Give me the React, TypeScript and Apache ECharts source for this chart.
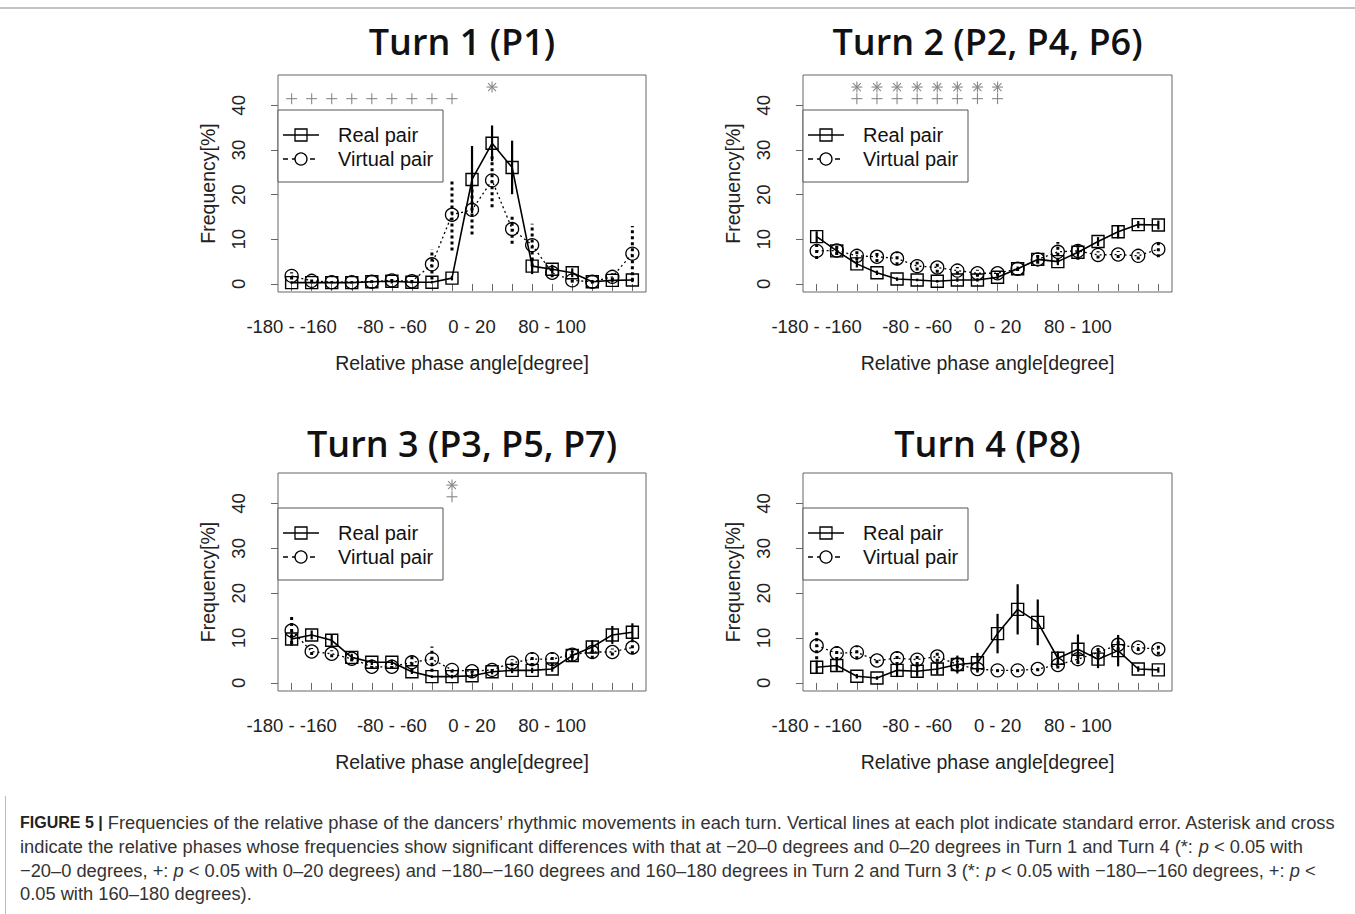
import React, { useEffect, useRef } from 'react';
import * as echarts from 'echarts';

// ---------- DATA ----------
const categories = [
  '-180 - -160', '-160 - -140', '-140 - -120', '-120 - -100', '-100 - -80', '-80 - -60',
  '-60 - -40', '-40 - -20', '-20 - 0', '0 - 20', '20 - 40', '40 - 60', '60 - 80',
  '80 - 100', '100 - 120', '120 - 140', '140 - 160', '160 - 180',
];
const labelPositions = [1, 6, 10, 14];
const yTicks = [0, 10, 20, 30, 40];

const titles = ['Turn 1 (P1)', 'Turn 2 (P2, P4, P6)', 'Turn 3 (P3, P5, P7)', 'Turn 4 (P8)'];

const p1Real = [0.3, 0.3, 0.3, 0.3, 0.5, 0.6, 0.4, 0.4, 1.3, 23.4, 31.5, 26.1, 4.0, 3.3, 2.5, 0.5, 0.8, 0.9];
const p1RealSE = [0.3, 0.2, 0.2, 0.2, 0.3, 0.5, 0.3, 0.3, 0.5, 7.5, 4.0, 6.0, 1.8, 1.0, 1.0, 0.4, 0.5, 0.5];
const p1Virtual = [1.8, 0.7, 0.4, 0.4, 0.5, 0.8, 0.6, 4.4, 15.5, 16.6, 23.2, 12.3, 8.7, 2.5, 0.8, 0.5, 1.6, 6.8];
const p1VirtualSE = [0.8, 0.3, 0.2, 0.2, 0.3, 0.4, 0.4, 3.4, 8.0, 5.5, 6.0, 3.3, 4.8, 1.0, 0.5, 0.4, 0.8, 6.2];

const p2Real = [10.6, 7.4, 4.5, 2.5, 1.1, 0.9, 0.6, 0.9, 0.9, 1.5, 3.4, 5.5, 5.0, 7.1, 9.5, 11.7, 13.3, 13.2];
const p2RealSE = [1.2, 0.8, 0.8, 0.5, 0.4, 0.3, 0.3, 0.4, 0.4, 0.4, 0.5, 0.8, 0.8, 1.0, 1.0, 1.5, 0.8, 1.0];
const p2Virtual = [7.4, 7.5, 6.3, 6.1, 5.7, 4.0, 3.7, 3.0, 2.4, 2.4, 3.4, 5.5, 7.2, 7.4, 6.5, 6.6, 6.3, 7.8];
const p2VirtualSE = [1.8, 1.0, 1.0, 1.2, 1.5, 1.0, 1.2, 0.8, 0.8, 0.6, 0.5, 1.0, 2.2, 2.0, 0.8, 0.8, 0.8, 1.8];

const p3Real = [9.8, 10.7, 9.5, 5.7, 4.6, 4.6, 2.5, 1.4, 1.4, 1.6, 2.5, 2.8, 2.8, 3.1, 6.1, 8.0, 10.7, 11.3];
const p3RealSE = [1.5, 1.0, 1.2, 0.8, 0.6, 0.6, 0.5, 0.3, 0.4, 0.5, 0.6, 0.6, 0.6, 0.6, 1.2, 1.5, 2.0, 2.0];
const p3Virtual = [11.7, 7.0, 6.5, 5.4, 3.6, 3.6, 4.6, 5.3, 2.9, 2.6, 2.9, 4.5, 5.3, 5.3, 6.3, 6.9, 6.9, 7.9];
const p3VirtualSE = [3.0, 0.8, 0.8, 0.6, 0.5, 0.5, 2.0, 2.8, 0.6, 0.5, 0.5, 0.8, 1.5, 1.5, 0.8, 1.5, 0.8, 1.5];

const p4Real = [3.5, 3.9, 1.5, 1.1, 2.8, 2.6, 3.1, 4.1, 4.5, 11.0, 16.4, 13.5, 5.5, 7.5, 5.3, 7.2, 3.1, 2.9];
const p4RealSE = [1.5, 1.2, 0.5, 0.4, 1.5, 1.2, 1.2, 2.0, 2.2, 4.4, 5.6, 5.1, 1.5, 3.3, 2.0, 3.5, 0.6, 0.6];
const p4Virtual = [8.3, 6.6, 6.8, 5.0, 5.5, 5.2, 5.9, 4.1, 3.1, 2.8, 2.8, 3.1, 4.0, 5.3, 6.8, 8.5, 7.9, 7.5];
const p4VirtualSE = [3.0, 1.5, 1.5, 0.6, 1.5, 1.2, 1.2, 0.8, 0.5, 0.4, 0.4, 0.5, 0.8, 1.0, 1.0, 1.2, 0.8, 1.2];

// significance markers: category index (1-based)
const crossLevel = 41.5;
const starLevel = 44.1;
const p1Cross = [1, 2, 3, 4, 5, 6, 7, 8, 9];
const p1Star = [11];
const p2Cross = [3, 4, 5, 6, 7, 8, 9, 10];
const p2Star = [3, 4, 5, 6, 7, 8, 9, 10];
const p3Cross = [9];
const p3Star = [9];
const p4Cross: number[] = [];
const p4Star: number[] = [];

const captionLines = [
  '{b|FIGURE 5 |} Frequencies of the relative phase of the dancers’ rhythmic movements in each turn. Vertical lines at each plot indicate standard error. Asterisk and cross',
  'indicate the relative phases whose frequencies show significant differences with that at −20–0 degrees and 0–20 degrees in Turn 1 and Turn 4 (*: {i|p} < 0.05 with',
  '−20–0 degrees, +: {i|p} < 0.05 with 0–20 degrees) and −180–−160 degrees and 160–180 degrees in Turn 2 and Turn 3 (*: {i|p} < 0.05 with −180–−160 degrees, +: {i|p} <',
  '0.05 with 160–180 degrees).',
];

// ---------- LAYOUT ----------
const grids = [
  { left: 278, top: 75, width: 368, height: 217 },
  { left: 803, top: 75, width: 369, height: 217 },
  { left: 278, top: 473, width: 368, height: 218 },
  { left: 803, top: 473, width: 369, height: 218 },
];
const titleY = [41, 41, 443, 443];

const FONT = 'Liberation Sans, Arial, Helvetica, sans-serif';
const CAP = 18.3;

const panels = [
  { real: p1Real, realSE: p1RealSE, virt: p1Virtual, virtSE: p1VirtualSE, cross: p1Cross, star: p1Star },
  { real: p2Real, realSE: p2RealSE, virt: p2Virtual, virtSE: p2VirtualSE, cross: p2Cross, star: p2Star },
  { real: p3Real, realSE: p3RealSE, virt: p3Virtual, virtSE: p3VirtualSE, cross: p3Cross, star: p3Star },
  { real: p4Real, realSE: p4RealSE, virt: p4Virtual, virtSE: p4VirtualSE, cross: p4Cross, star: p4Star },
];

function errSeries(gi: number, vals: number[], se: number[], dashed: boolean) {
  return {
    type: 'custom',
    xAxisIndex: gi,
    yAxisIndex: gi,
    clip: false,
    z: 4,
    encode: { x: 0, y: [1, 2] },
    data: vals.map((v, i) => [i + 1, v - se[i], v + se[i]]),
    renderItem: (_p: any, api: any) => {
      const x = api.value(0);
      const lo = api.coord([x, api.value(1)]);
      const hi = api.coord([x, api.value(2)]);
      return {
        type: 'line',
        shape: { x1: lo[0], y1: lo[1], x2: hi[0], y2: hi[1] },
        style: dashed
          ? { stroke: '#000', lineWidth: 3, lineDash: [3, 3] }
          : { stroke: '#000', lineWidth: 2.2 },
      };
    },
  };
}

function sigSeries(gi: number, xs: number[], level: number, star: boolean) {
  return {
    type: 'custom',
    xAxisIndex: gi,
    yAxisIndex: gi,
    clip: false,
    z: 5,
    encode: { x: 0, y: 1 },
    data: xs.map((x) => [x, level]),
    renderItem: (_p: any, api: any) => {
      const c = api.coord([api.value(0), api.value(1)]);
      const h = 5.5;
      const style = { stroke: '#888', lineWidth: 1.1 };
      const children: any[] = [
        { type: 'line', shape: { x1: c[0] - h, y1: c[1], x2: c[0] + h, y2: c[1] }, style },
        { type: 'line', shape: { x1: c[0], y1: c[1] - h, x2: c[0], y2: c[1] + h }, style },
      ];
      if (star) {
        const d = h * 0.72;
        children.push({ type: 'line', shape: { x1: c[0] - d, y1: c[1] - d, x2: c[0] + d, y2: c[1] + d }, style });
        children.push({ type: 'line', shape: { x1: c[0] - d, y1: c[1] + d, x2: c[0] + d, y2: c[1] - d }, style });
      }
      return { type: 'group', children };
    },
  };
}

function buildOption() {
  const tickVals = categories.map((_, i) => i + 1);
  const xAxis = grids.map((_, gi) => ({
    type: 'value',
    gridIndex: gi,
    min: 0.32,
    max: 18.68,
    axisLine: { show: false },
    splitLine: { show: false },
    axisTick: { show: true, customValues: tickVals, length: 7, lineStyle: { color: '#666', width: 1 } },
    axisLabel: {
      customValues: labelPositions,
      formatter: (v: number) => categories[Math.round(v) - 1],
      fontSize: 18.5,
      color: '#222',
      margin: 25,
      fontFamily: FONT,
    },
    name: 'Relative phase angle[degree]',
    nameLocation: 'middle',
    nameGap: 61,
    nameTextStyle: { fontSize: 19.5, color: '#222', fontFamily: FONT },
  }));
  const yAxis = grids.map((_, gi) => ({
    type: 'value',
    gridIndex: gi,
    min: -1.8,
    max: 46.8,
    axisLine: { show: false },
    splitLine: { show: false },
    axisTick: { show: true, customValues: yTicks, length: 7, lineStyle: { color: '#666', width: 1 } },
    axisLabel: {
      customValues: yTicks,
      rotate: 90,
      fontSize: 18.5,
      color: '#222',
      margin: 30,
      fontFamily: FONT,
    },
    name: 'Frequency[%]',
    nameLocation: 'middle',
    nameGap: 60,
    nameTextStyle: { fontSize: 19.5, color: '#222', fontFamily: FONT },
  }));

  const series: any[] = [];
  panels.forEach((p, gi) => {
    series.push({
      type: 'line',
      xAxisIndex: gi,
      yAxisIndex: gi,
      data: p.virt.map((v, i) => [i + 1, v]),
      symbol: 'circle',
      symbolSize: 13,
      lineStyle: { color: '#000', width: 1.3, type: [2, 3] },
      itemStyle: { color: 'rgba(255,255,255,0)', borderColor: '#000', borderWidth: 1.3 },
      z: 3,
    });
    series.push({
      type: 'line',
      xAxisIndex: gi,
      yAxisIndex: gi,
      data: p.real.map((v, i) => [i + 1, v]),
      symbol: 'rect',
      symbolSize: 12,
      lineStyle: { color: '#000', width: 1.6 },
      itemStyle: { color: 'rgba(255,255,255,0)', borderColor: '#000', borderWidth: 1.4 },
      z: 3,
    });
    series.push(errSeries(gi, p.virt, p.virtSE, true));
    series.push(errSeries(gi, p.real, p.realSE, false));
    if (p.cross.length) series.push(sigSeries(gi, p.cross, crossLevel, false));
    if (p.star.length) series.push(sigSeries(gi, p.star, starLevel, true));
  });

  const graphic: any[] = [];
  graphic.push({ type: 'line', shape: { x1: 0, y1: 8, x2: 1355, y2: 8 }, style: { stroke: '#888', lineWidth: 1.2 } });
  graphic.push({ type: 'line', shape: { x1: 5.5, y1: 796, x2: 5.5, y2: 914 }, style: { stroke: '#bbb', lineWidth: 1 } });

  grids.forEach((g, gi) => {
    graphic.push({
      type: 'text',
      x: g.left + g.width / 2,
      y: titleY[gi],
      style: {
        text: titles[gi],
        fontSize: 36,
        fontWeight: 600,
        fontFamily: 'Open Sans, Lato, sans-serif',
        fill: '#111',
        align: 'center',
        verticalAlign: 'middle',
      },
    });
    const L = g.left;
    const T = g.top;
    graphic.push({
      type: 'rect',
      shape: { x: L, y: T + 35, width: 165, height: 72 },
      style: { fill: '#fff', stroke: '#555', lineWidth: 1 },
      z: 10,
    });
    graphic.push({ type: 'line', shape: { x1: L + 5, y1: T + 60, x2: L + 41, y2: T + 60 }, style: { stroke: '#000', lineWidth: 1.5 }, z: 11 });
    graphic.push({ type: 'rect', shape: { x: L + 17, y: T + 54, width: 12, height: 12 }, style: { fill: 'none', stroke: '#000', lineWidth: 1.3 }, z: 11 });
    graphic.push({ type: 'line', shape: { x1: L + 5, y1: T + 84, x2: L + 41, y2: T + 84 }, style: { stroke: '#000', lineWidth: 1.3, lineDash: [5, 4] }, z: 11 });
    graphic.push({ type: 'circle', shape: { cx: L + 23, cy: T + 84, r: 6 }, style: { fill: '#fff', stroke: '#000', lineWidth: 1.3 }, z: 11 });
    graphic.push({
      type: 'text', x: L + 60, y: T + 60, z: 11,
      style: { text: 'Real pair', fontSize: 20, fontFamily: FONT, fill: '#111', verticalAlign: 'middle' },
    });
    graphic.push({
      type: 'text', x: L + 60, y: T + 84, z: 11,
      style: { text: 'Virtual pair', fontSize: 20, fontFamily: FONT, fill: '#111', verticalAlign: 'middle' },
    });
  });

  const capY = [822, 846, 870, 893];
  captionLines.forEach((line, i) => {
    graphic.push({
      type: 'text',
      x: 20,
      y: capY[i],
      style: {
        text: line,
        fontSize: CAP,
        fontFamily: FONT,
        fill: '#333',
        verticalAlign: 'middle',
        rich: {
          b: { fontWeight: 'bold', fontSize: 16, fontFamily: FONT, fill: '#222' },
          i: { fontStyle: 'italic', fontSize: CAP, fontFamily: FONT, fill: '#333' },
        },
      },
    });
  });

  return {
    animation: false,
    backgroundColor: '#fff',
    grid: grids.map((g) => ({ ...g, show: true, borderColor: '#666', borderWidth: 1, backgroundColor: 'transparent', containLabel: false })),
    xAxis,
    yAxis,
    series,
    graphic,
  };
}

export default function App() {
  const ref = useRef<HTMLDivElement>(null);
  useEffect(() => {
    if (!ref.current) return;
    const chart = echarts.init(ref.current, undefined, { renderer: 'svg' });
    chart.setOption(buildOption() as any);
    return () => chart.dispose();
  }, []);
  return (
    <div
      ref={ref}
      style={{ position: 'fixed', left: 0, top: 0, width: 1355, height: 914, background: '#fff' }}
    />
  );
}
